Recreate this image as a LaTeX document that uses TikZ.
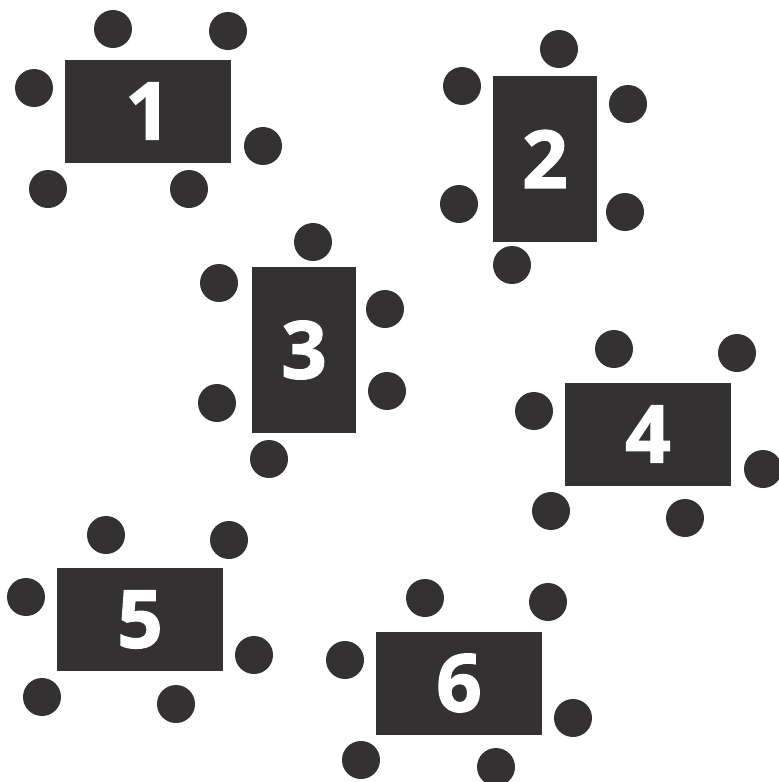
\documentclass[tikz,border=0pt]{standalone}
\usepackage{fontspec}
\setmainfont{Open Sans}[BoldFeatures={FakeBold=1.6}]
\usetikzlibrary{positioning}
\definecolor{tablegray}{RGB}{51,49,50}
\tikzset{
  tablebox/.style={rectangle, fill=tablegray, text=white, inner sep=0pt,
    font=\fontsize{80}{80}\selectfont\bfseries},
  widetable/.style={tablebox, minimum width=166pt, minimum height=103pt},
  talltable/.style={tablebox, minimum width=104pt, minimum height=166pt},
  chair/.style={circle, fill=tablegray, inner sep=0pt, minimum size=38pt}
}
\begin{document}
\begin{tikzpicture}[x=1pt,y=-1pt]
    \useasboundingbox (0,0) rectangle (779,782);
    % tables
    \node[widetable] (t1) at (148,111) {1};
    \node[talltable] (t2) at (545,159) {2};
    \node[talltable] (t3) at (304,350) {3};
    \node[widetable] (t4) at (648,434) {4};
    \node[widetable] (t5) at (140,619.5) {5};
    \node[widetable] (t6) at (459,683) {6};
    % chairs
    \foreach \n/\x/\y in {1a/113/29, 1b/228/31, 1c/34/88, 1d/263/146, 1e/48/189, 1f/189/189,
        2a/559/49, 2b/462/86, 2c/628/104, 2d/459/204, 2e/625/212, 2f/512/265,
        3a/313/242, 3b/219/283, 3c/385/309, 3d/217/403, 3e/387/391, 3f/269/459,
        4a/614/349, 4b/737/353, 4c/534/411, 4d/763/469, 4e/551/511, 4f/685/518,
        5a/106/535, 5b/229/540, 5c/26/597, 5d/254/655, 5e/42/697, 5f/176/704,
        6a/425/598, 6b/548/602, 6c/345/660, 6d/573/718, 6e/361/760, 6f/496/767}
      \node[chair] (c\n) at (\x,\y) {};
\end{tikzpicture}
\end{document}
